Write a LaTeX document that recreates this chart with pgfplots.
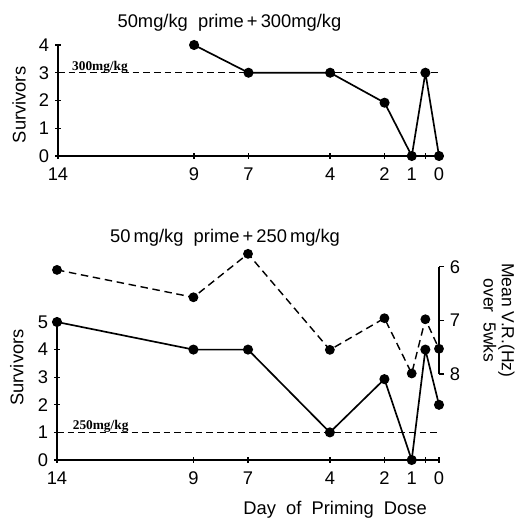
\documentclass[border=0pt]{standalone}
\usepackage{pgfplots}
\pgfplotsset{compat=1.18}
\usepackage{fontspec}
\setmainfont{Liberation Sans}
\newfontfamily\notefont{Liberation Serif}

\pgfplotsset{
  panel/.style={
    scale only axis,
    xmin=0, xmax=14, x dir=reverse,
    axis x line*=bottom, axis y line*=left,
    xtick={14,9,7,4,2,1,0.5,0},
    xticklabels={14,9,7,4,2,1,,0},
    tick align=center, major tick length=3.5pt,
    tick style={black, line width=0.8pt},
    axis line style={line width=1pt},
    tick label style={font=\fontsize{11}{13}\selectfont},
    xticklabel style={yshift=-2pt},
    label style={font=\fontsize{11}{13}\selectfont},
    title style={font=\fontsize{11}{13}\selectfont},
    /pgf/number format/assume math mode=true,
    clip=false,
  },
  surv/.style={black, line width=1pt, mark=*, mark size=2.5pt, mark options={solid}},
  ref/.style={black, line width=0.75pt, dash pattern=on 4pt off 2.4pt},
}

\begin{document}
\begin{tikzpicture}
\path[use as bounding box] (0,0) rectangle (310.2pt,312pt);

% top panel
\begin{axis}[panel,
  at={(149.1pt,251.7pt)}, anchor=center,
  width=228.6pt, height=66.6pt,
  ymin=0, ymax=4, ytick={0,1,2,3,4},
  ylabel={Survivors},
  ylabel style={at={(axis description cs:-0.102,0.46)}, anchor=center},
  title={50mg/kg\ \ prime\,+\,300mg/kg},
  title style={at={(axis description cs:0.45,1)}, anchor=center, yshift=7.5pt},
]
\addplot[ref] coordinates {(14,3) (0,3)};
\addplot[surv] coordinates {(9,4) (7,3) (4,3) (2,1.92) (1,0) (0.5,3) (0,0)};
\node[font=\notefont\bfseries\fontsize{8}{9}\selectfont, anchor=base west]
  at (axis cs:14,3) [xshift=5pt, yshift=1.5pt] {300mg/kg};
\end{axis}

% bottom panel, survivors
\begin{axis}[panel,
  at={(148.8pt,77.4pt)}, anchor=center,
  width=229.2pt, height=82.8pt,
  ymin=0, ymax=5, ytick={0,1,2,3,4,5},
  ylabel={Survivors},
  ylabel style={at={(axis description cs:-0.105,0.67)}, anchor=center},
  xlabel={Day\ \ of\ \ Priming\ \ Dose},
  xlabel style={at={(axis description cs:0.728,0)}, anchor=center, yshift=-30pt},
  title={50\,mg/kg\ \ prime\,+\,250\,mg/kg},
  title style={at={(axis description cs:0.44,1)}, anchor=center, yshift=44.4pt},
]
\addplot[ref] coordinates {(14,1) (0,1)};
\addplot[surv] coordinates {(14,5) (9,4) (7,4) (4,1) (2,2.93) (1,0) (0.5,4) (0,2)};
\node[font=\notefont\bfseries\fontsize{8}{9}\selectfont, anchor=base west]
  at (axis cs:14,1) [xshift=6pt, yshift=1.5pt] {250mg/kg};
\end{axis}

% bottom panel, mean V.R.
\begin{axis}[panel,
  at={(148.8pt,119.79pt)}, anchor=center,
  width=229.2pt, height=64.38pt,
  ymin=6, ymax=8, y dir=reverse, ytick={6,7,8},
  axis x line=none, axis y line*=right,
  tick align=outside, major tick length=3pt,
  ylabel={Mean V.R.(Hz)\\over\ \ 5wks},
  every axis y label/.style={at={(axis description cs:1,0.5)}, anchor=center,
    xshift=36pt, rotate=-90, align=center,
    font=\fontsize{10.5}{11}\selectfont},
]
\addplot[surv, line width=0.85pt, dash pattern=on 4.5pt off 2.8pt]
  coordinates {(14,6.06) (9,6.57) (7,5.76) (4,7.55) (2,6.96) (1,7.99) (0.5,6.98) (0,7.53)};
\end{axis}
\end{tikzpicture}
\end{document}
